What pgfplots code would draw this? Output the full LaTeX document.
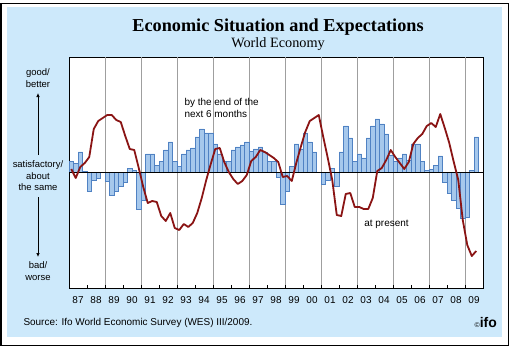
\documentclass[border=0pt]{standalone}
\usepackage{pgfplots}
\usepackage{pgfplotstable}
\pgfplotsset{compat=1.18}
\usetikzlibrary{arrows.meta}
\usepackage{fontspec}
\setmainfont{Liberation Sans}
\newfontfamily\serif{Liberation Serif}
\definecolor{bgblue}{RGB}{205,233,251}
\definecolor{barfill}{RGB}{166,200,236}
\definecolor{baredge}{RGB}{80,130,195}
\definecolor{darkred}{RGB}{138,20,20}

\pgfplotstableread{
x e p
1987.125 11 3
1987.375 9 -6
1987.625 20 5
1987.875 0.5 9
1988.125 -19 15
1988.375 -8 43
1988.625 -6 51
1988.875 0 54
1989.125 -9 57
1989.375 -23 57
1989.625 -19 52
1989.875 -14 50
1990.125 -10 36
1990.375 4 23
1990.625 2 22
1990.875 -37 4
1991.125 -28 -15
1991.375 18 -31
1991.625 18 -29
1991.875 7 -30
1992.125 11 -44
1992.375 22 -49
1992.625 30 -41
1992.875 11 -56
1993.125 6 -58
1993.375 18 -52
1993.625 22 -55
1993.875 24 -51
1994.125 35 -41
1994.375 43 -26
1994.625 39 -8
1994.875 39 8
1995.125 28 23
1995.375 18 24
1995.625 11 10
1995.875 11 0
1996.125 22 -7
1996.375 25 -12
1996.625 27 -9
1996.875 30 -3
1997.125 21 11
1997.375 23 15
1997.625 25 22
1997.875 20 20
1998.125 11 17
1998.375 11 14
1998.625 -5 10
1998.875 -32 -5
1999.125 -19 -4
1999.375 6 -9
1999.625 28 9
1999.875 23 25
2000.125 39 40
2000.375 30 51
2000.625 20 54
2000.875 0 57
2001.125 -12 35
2001.375 -8 14
2001.625 4 -8
2001.875 -14 -43
2002.125 20 -44
2002.375 46 -22
2002.625 34 -21
2002.875 11 -35
2003.125 18 -35
2003.375 14 -37
2003.625 34 -37
2003.875 46 -26
2004.125 53 1
2004.375 48 4
2004.625 38 12
2004.875 17 22
2005.125 11 15
2005.375 14 9
2005.625 18 3
2005.875 12 10
2006.125 28 28
2006.375 28 34
2006.625 11 38
2006.875 2 46
2007.125 3 49
2007.375 7 45
2007.625 16 58
2007.875 -10 44
2008.125 -21 29
2008.375 -28 10
2008.625 -36 -8
2008.875 -46 -48
2009.125 -45 -73
2009.375 2 -84
2009.625 35 -79
}\wes

\begin{document}
\begin{tikzpicture}[x=1bp,y=1bp]
\useasboundingbox (0,0) rectangle (510,347);
\fill[white] (0,0) rectangle (510,347);
\draw[line width=1.4bp] (1,1.3) rectangle (508.3,343.7);
\fill[bgblue] (7.3,10.3) rectangle (501.7,340.3);
\node[font=\serif\bfseries\fontsize{18.3}{21}\selectfont] at (278,320) {Economic Situation and Expectations};
\node[font=\serif\fontsize{14.3}{16}\selectfont] at (278,303) {World Economy};

\begin{axis}[
  at={(69bp,59bp)}, anchor=south west, scale only axis,
  width=414bp, height=231bp,
  xmin=1987, xmax=2010, ymin=-116, ymax=115,
  axis background/.style={fill=white},
  axis line style={black, line width=0.8bp},
  ytick=\empty,
  xtick={1987.5,1988.5,1989.5,1990.5,1991.5,1992.5,1993.5,1994.5,1995.5,1996.5,1997.5,1998.5,1999.5,2000.5,2001.5,2002.5,2003.5,2004.5,2005.5,2006.5,2007.5,2008.5,2009.5},
  xticklabels={87,88,89,90,91,92,93,94,95,96,97,98,99,00,01,02,03,04,05,06,07,08,09},
  major tick length=0pt,
  minor xtick={1988,1989,...,2009},
  minor tick length=3bp,
  tick align=inside,
  xtick pos=bottom,
  tick style={black, line width=0.6bp},
  extra x ticks={1989,1991,...,2009},
  extra x tick labels={},
  extra x tick style={grid=major, major grid style={gray!75, line width=0.8bp}, major tick length=3bp},
  xticklabel style={font=\fontsize{10}{12}\selectfont, yshift=-5bp},
  clip=true,
]
\addplot[ybar, bar width=0.25, bar shift=0pt, fill=barfill, draw=baredge, line width=0.5bp] table[x=x,y=e] {\wes};
\addplot[black, line width=0.8bp] coordinates {(1987,0) (2010,0)};
\addplot[darkred, line width=1.8bp, line join=round, no marks] table[x=x,y=p] {\wes};
\end{axis}

\node[anchor=north west, align=left, font=\fontsize{10}{12}\selectfont] at (181,252) {by the end of the\\next 6 months};
\node[font=\fontsize{10}{12}\selectfont] at (386.5,123) {at present};

\node[align=center, font=\fontsize{9.5}{11.5}\selectfont] at (38,269) {good/\\better};
\draw[-{Latex[length=4bp,width=3.5bp]}, line width=0.7bp] (38,192) -- (38,254);
\node[align=center, font=\fontsize{9.5}{11.5}\selectfont] at (38,171) {satisfactory/\\about\\the same};
\draw[-{Latex[length=4bp,width=3.5bp]}, line width=0.7bp] (38,150) -- (38,90);
\node[align=center, font=\fontsize{9.5}{11.5}\selectfont] at (38,76) {bad/\\worse};

\node[anchor=west, font=\fontsize{10}{12}\selectfont] at (20,24) {Source: Ifo World Economic Survey (WES) III/2009.};
\node[anchor=east, inner sep=0pt, font=\fontsize{14}{14}\selectfont] at (497,24) {{\fontsize{7}{8}\selectfont\textcopyright}\textbf{ifo}};
\end{tikzpicture}
\end{document}
